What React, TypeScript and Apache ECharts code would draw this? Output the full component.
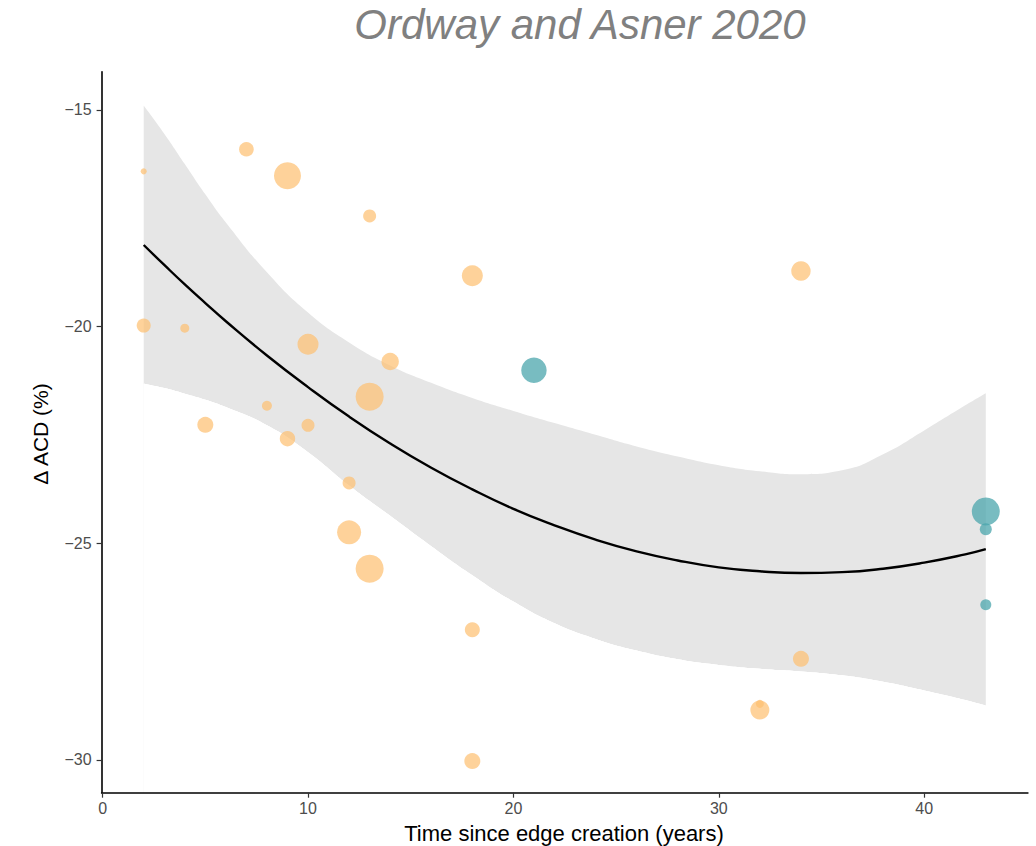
import React, { useEffect, useRef } from "react";
import * as echarts from "echarts";

// Orange points: [x, y, bubble weight]
const orangeX = [2, 7, 9, 13, 18, 34, 2, 4, 10, 14, 13, 8, 5, 10, 9, 12, 12, 13, 18, 34, 32, 32, 18];
const orangeY = [-16.42, -15.91, -16.52, -17.45, -18.83, -18.72, -19.98, -20.04, -20.41, -20.81, -21.62, -21.83, -22.27, -22.28, -22.59, -23.61, -24.75, -25.59, -27.0, -27.67, -28.85, -28.71, -30.03];
const orangeW = [3, 7.3, 13.5, 6.5, 10.5, 9.7, 7, 4.5, 10.5, 8.7, 14, 5, 8, 6.5, 7.7, 6.5, 12, 14, 7.5, 8, 9.5, 4, 8];

// Teal points
const tealX = [21, 43, 43, 43];
const tealY = [-21.01, -24.27, -24.68, -26.42];
const tealW = [12.7, 14, 6, 5.5];

// Fit line and confidence band
const fitX = [2, 3, 4, 5, 6, 8, 10, 12, 14, 16, 18, 20, 22, 24, 26, 28, 30, 32, 34, 36, 38, 40, 42, 43];
const fitY = [-18.12, -18.58, -19.03, -19.46, -19.88, -20.67, -21.4, -22.08, -22.7, -23.26, -23.76, -24.21, -24.59, -24.92, -25.19, -25.4, -25.56, -25.65, -25.69, -25.67, -25.59, -25.45, -25.26, -25.14];
const bandHigh = [-14.9, -15.55, -16.25, -16.95, -17.6, -18.75, -19.68, -20.37, -20.9, -21.3, -21.65, -21.95, -22.23, -22.5, -22.77, -23.0, -23.2, -23.34, -23.41, -23.32, -22.95, -22.4, -21.82, -21.54];
const bandLow = [-21.32, -21.42, -21.55, -21.69, -21.86, -22.28, -22.9, -23.67, -24.37, -25.07, -25.74, -26.35, -26.85, -27.21, -27.48, -27.68, -27.81, -27.9, -27.96, -28.05, -28.2, -28.4, -28.62, -28.75];

const xTicks = [0, 10, 20, 30, 40];
const yTicks = [-30, -25, -20, -15];

const FONT = "'Liberation Sans', Arial, Helvetica, sans-serif";

const fmt = (v: number) => (v < 0 ? "\u2212" + Math.abs(v) : String(v));

export default function App() {
  const ref = useRef<HTMLDivElement>(null);
  useEffect(() => {
    if (!ref.current) return;
    const chart = echarts.init(ref.current, null, { renderer: "svg" });
    const lowerMask = (name: string) => ({
      type: "line",
      name,
      data: fitX.map((x, i) => [x, bandLow[i]]),
      smooth: true,
      showSymbol: false,
      silent: true,
      lineStyle: { width: 0, opacity: 0 },
      areaStyle: { color: "#ffffff", opacity: 1, origin: "start" },
      z: 1,
    });
    const option: any = {
      animation: false,
      backgroundColor: "#ffffff",
      grid: { left: 101.6, right: 8.1, top: 71.7, bottom: 53.3, containLabel: false },
      xAxis: {
        type: "value",
        min: -0.05,
        max: 45.05,
        z: 10,
        splitLine: { show: false },
        axisLine: { show: true, onZero: false, lineStyle: { color: "#000", width: 1.6 } },
        axisTick: { show: true, length: 5, lineStyle: { color: "#333", width: 1.2 }, customValues: xTicks },
        axisLabel: {
          customValues: xTicks,
          formatter: fmt,
          color: "#4d4d4d",
          fontSize: 16,
          fontFamily: FONT,
          margin: 8,
        },
      },
      yAxis: {
        type: "value",
        min: -30.76,
        max: -14.12,
        z: 10,
        splitLine: { show: false },
        axisLine: { show: true, onZero: false, lineStyle: { color: "#000", width: 1.6 } },
        axisTick: { show: true, length: 5, lineStyle: { color: "#333", width: 1.2 }, customValues: yTicks },
        axisLabel: {
          customValues: yTicks,
          formatter: fmt,
          color: "#4d4d4d",
          fontSize: 16,
          fontFamily: FONT,
          margin: 10,
        },
      },
      graphic: [
        {
          type: "text",
          x: 580,
          y: 24,
          style: {
            text: "Ordway and Asner 2020",
            fontSize: 42,
            fontStyle: "italic",
            fontFamily: FONT,
            fill: "#808080",
            align: "center",
            verticalAlign: "middle",
          },
        },
        {
          type: "text",
          x: 564,
          y: 833,
          style: {
            text: "Time since edge creation (years)",
            fontSize: 22,
            fontFamily: FONT,
            fill: "#000",
            align: "center",
            verticalAlign: "middle",
          },
        },
        {
          type: "text",
          x: 40,
          y: 434,
          rotation: Math.PI / 2,
          style: {
            text: "\u0394 ACD (%)",
            fontSize: 21,
            fontFamily: FONT,
            fill: "#000",
            align: "center",
            verticalAlign: "middle",
          },
        },
        {
          type: "text",
          x: 155,
          y: 675,
          style: {
            text: "adj. {i|R}{s|2}{n| = 0.3}",
            fontSize: 18,
            fontFamily: FONT,
            fill: "#000",
            verticalAlign: "middle",
            rich: {
              i: { fontStyle: "italic", fontSize: 18, fontFamily: FONT },
              s: { fontSize: 12, fontFamily: FONT, verticalAlign: "top", padding: [0, 0, 10, 1] },
              n: { fontSize: 18, fontFamily: FONT },
            },
          },
        },
        {
          type: "text",
          x: 155,
          y: 717,
          style: {
            text: "{i|p}{n| = 0.006}",
            fontSize: 18,
            fontFamily: FONT,
            fill: "#000",
            verticalAlign: "middle",
            rich: {
              i: { fontStyle: "italic", fontSize: 18, fontFamily: FONT },
              n: { fontSize: 18, fontFamily: FONT },
            },
          },
        },
        {
          type: "text",
          x: 153,
          y: 760,
          style: {
            text: "RMSE = 3.2%",
            fontSize: 18,
            fontFamily: FONT,
            fill: "#000",
            verticalAlign: "middle",
          },
        },
      ],
      series: [
        {
          type: "line",
          name: "bandUpper",
          data: fitX.map((x, i) => [x, bandHigh[i]]),
          smooth: true,
          showSymbol: false,
          silent: true,
          lineStyle: { width: 0, opacity: 0 },
          areaStyle: { color: "#e6e6e6", opacity: 1, origin: "start" },
          z: 1,
        },
        lowerMask("bandLower"),
        lowerMask("bandLowerMask2"),
        lowerMask("bandLowerMask3"),
        {
          type: "scatter",
          name: "orange",
          data: orangeX.map((x, i) => [x, orangeY[i], orangeW[i]]),
          symbolSize: (v: number[]) => v[2] * 2,
          itemStyle: { color: "#fdbf6f", opacity: 0.7 },
          z: 3,
        },
        {
          type: "scatter",
          name: "teal",
          data: tealX.map((x, i) => [x, tealY[i], tealW[i]]),
          symbolSize: (v: number[]) => v[2] * 2,
          itemStyle: { color: "#4ba6ac", opacity: 0.75 },
          z: 3,
        },
        {
          type: "line",
          name: "fit",
          data: fitX.map((x, i) => [x, fitY[i]]),
          smooth: true,
          showSymbol: false,
          lineStyle: { color: "#000", width: 2.4 },
          z: 4,
        },
      ],
    };
    chart.setOption(option);
    return () => chart.dispose();
  }, []);
  return (
    <div
      ref={ref}
      style={{ position: "absolute", left: 0, top: 0, width: 1036, height: 846 }}
    />
  );
}
